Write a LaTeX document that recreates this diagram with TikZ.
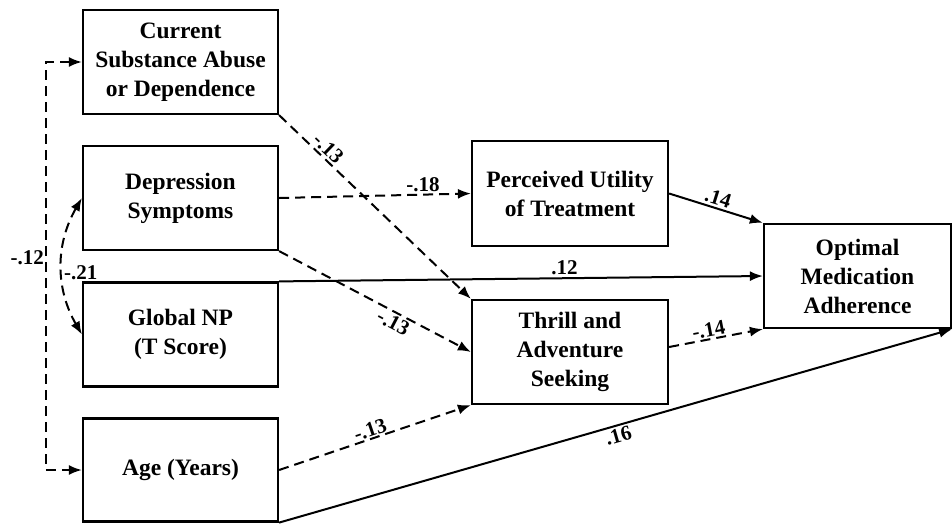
\documentclass[tikz,border=0pt]{standalone}
\usepackage{fontspec}
\setmainfont{Liberation Serif}
\usetikzlibrary{arrows.meta}

\begin{document}
\begin{tikzpicture}[x=1pt, y=-1pt,
    box/.style={draw, line width=2.2pt, align=center, inner sep=0pt,
      minimum width=195pt, minimum height=104pt,
      font=\fontsize{23.5}{29}\selectfont\bfseries},
    eff/.style={line width=2pt, -{Latex[length=13pt,width=10pt]}},
    neg/.style={eff, dash pattern=on 10pt off 6pt},
    cov/.style={neg, {Latex[length=13pt,width=10pt]}-{Latex[length=13pt,width=10pt]}},
    lbl/.style={font=\fontsize{21}{24}\selectfont\bfseries, inner sep=2pt}]
        \useasboundingbox (0,0) rectangle (952,523);

        % Predictors on the left
        \node[box] (cur) at (180.5,62) {Current\\Substance Abuse\\or Dependence};
        \node[box] (dep) at (180.5,198) {Depression\\Symptoms};
        \node[box] (gnp) at (180.5,334.5) {Global NP\\(T Score)};
        \node[box, minimum height=103pt] (age) at (180.5,470) {Age (Years)};

        % Mediators and outcome
        \node[box, minimum width=196pt, minimum height=105pt] (per) at (570,193.5) {Perceived Utility\\of Treatment};
        \node[box, minimum width=196pt] (thr) at (570,352) {Thrill and\\Adventure\\Seeking};
        \node[box, minimum width=187pt] (opt) at (857.5,276) {Optimal\\Medication\\Adherence};

        % Paths
        \draw[neg] (cur.south east) -- node[pos=.22, above, sloped, lbl] {-.13} (thr.north west);
        \draw[neg] (dep.east) -- node[pos=.75, above, lbl] {-.18} (per.west);
        \draw[neg] (dep.south east) -- node[pos=.62, below, sloped, lbl] {-.13} (thr.west);
        \draw[eff] (gnp.north east) -- node[pos=.59, above, lbl] {.12} (opt.west);
        \draw[neg] (age.east) -- node[pos=.49, above, sloped, lbl, inner sep=1pt] {-.13} (thr.south west);
        \draw[eff] (per.east) -- node[pos=.49, above, sloped, lbl] {.14} (opt.north west);
        \draw[neg] ([yshift=5pt]thr.east) -- node[pos=.44, above, sloped, lbl, inner sep=1pt] {-.14} (opt.south west);
        \draw[eff] (age.south east) -- node[pos=.5, below, sloped, lbl] {.16} (opt.south east);

        % Covariances
        \draw[cov] (cur.west) -- ++(-36,0) |- node[pos=.24, left, lbl, inner sep=1pt] {-.12} (age.west);
        \draw[cov] (dep.west) to[bend right=30] node[pos=.55, right, lbl, inner sep=1pt] {-.21} (gnp.west);

\end{tikzpicture}
\end{document}
